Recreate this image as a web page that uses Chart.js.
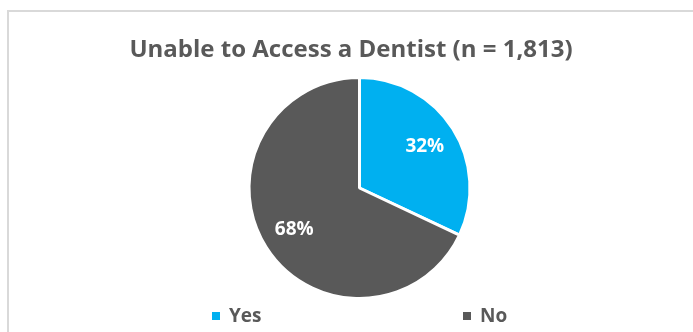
<!DOCTYPE html>
<html>
<head>
<meta charset="utf-8">
<script src="https://cdn.jsdelivr.net/npm/chart.js@4"></script>
<style>
  html, body { margin: 0; padding: 0; background: #fff; }
  #frame {
    position: absolute; left: 7px; top: 10px; width: 800px; height: 400px;
    border-top: 2px solid #d9d9d9; border-left: 2px solid #d9d9d9;
  }
  #wrap { position: absolute; left: 0; top: 0; width: 693px; height: 332px; }
</style>
</head>
<body>
<div id="frame"></div>
<div id="wrap"><canvas id="chart-canvas"></canvas></div>
<script>
"use strict";

let chartTitle = "Unable to Access a Dentist (n = 1,813)";
let labels = ["Yes", "No"];
let percents = [32, 68];
let colors = ["#00B0F0", "#595959"];
let textColor = "#595959";
let fontName = "'Open Sans', 'Noto Sans', sans-serif";

// title, legend and slice labels drawn by hand
let decorPlugin = {
  id: "decor",
  afterDatasetsDraw(chart) {
    let ctx = chart.ctx;
    ctx.save();

    // slice labels
    let meta = chart.getDatasetMeta(0);
    ctx.fillStyle = "#ffffff";
    ctx.font = "bold 19px " + fontName;
    ctx.textAlign = "center";
    ctx.textBaseline = "middle";
    meta.data.forEach(function (arc, i) {
      let mid = (arc.startAngle + arc.endAngle) / 2;
      let r = arc.outerRadius * 0.7;
      ctx.fillText(percents[i] + "%", arc.x + Math.cos(mid) * r, arc.y + Math.sin(mid) * r);
    });

    // title
    ctx.fillStyle = textColor;
    ctx.font = "bold 24px " + fontName;
    ctx.fillText(chartTitle, 351, 50);

    // legend
    let legendX = [212, 463];
    ctx.font = "bold 19px " + fontName;
    ctx.textAlign = "left";
    for (let i = 0; i < labels.length; i++) {
      ctx.fillStyle = colors[i];
      ctx.fillRect(legendX[i], 312, 8, 8);
      ctx.fillStyle = textColor;
      ctx.fillText(labels[i], legendX[i] + 17, 317);
    }
    ctx.restore();
  }
};

let ctx = document.getElementById("chart-canvas");
let chart = new Chart(ctx, {
  type: "pie",
  data: {
    labels: labels,
    datasets: [
      {
        data: percents,
        backgroundColor: colors,
        borderColor: "#ffffff",
        borderWidth: 3,
      },
    ],
  },
  options: {
    responsive: true,
    maintainAspectRatio: false,
    animation: false,
    layout: { padding: { left: 26, right: 0, top: 76, bottom: 32 } },
    plugins: {
      legend: { display: false },
      title: { display: false },
      tooltip: { enabled: false },
    },
  },
  plugins: [decorPlugin],
});
</script>
</body>
</html>
